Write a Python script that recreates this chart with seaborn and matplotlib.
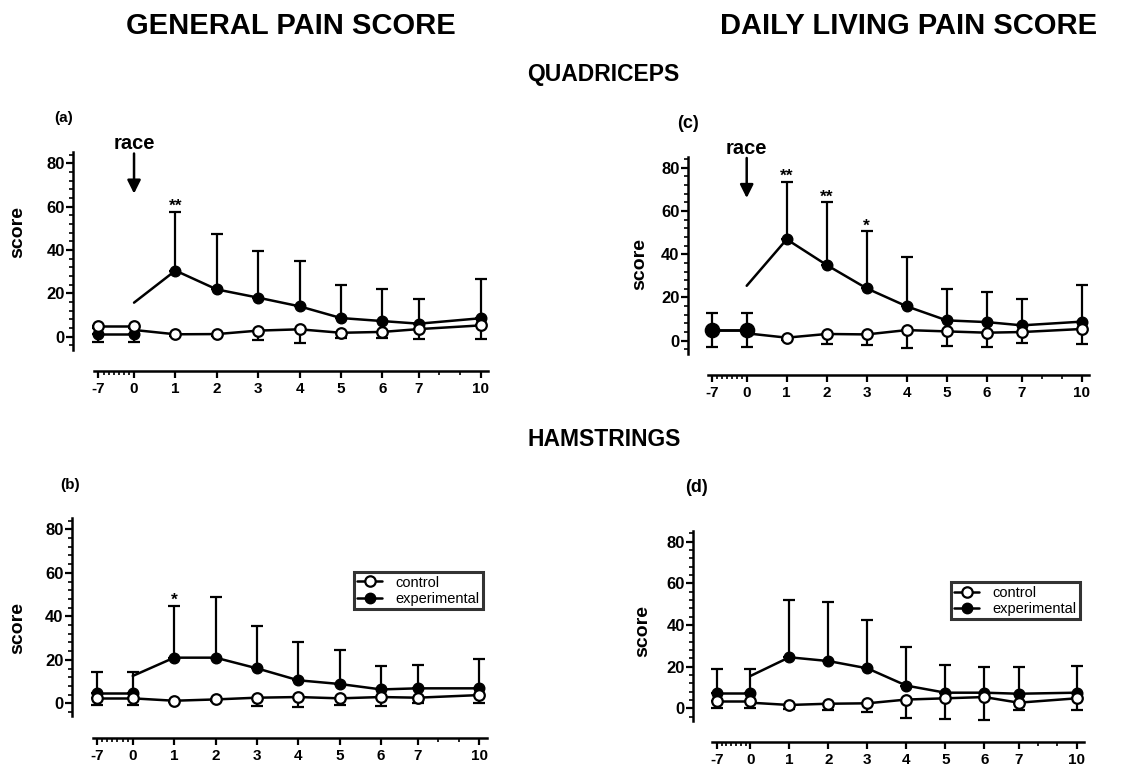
import numpy as np
import pandas as pd
import matplotlib
matplotlib.use("Agg")
import matplotlib.pyplot as plt
import seaborn as sns
from matplotlib.lines import Line2D

# ---------------- data ----------------
days = [-7, 0, 1, 2, 3, 4, 5, 6, 7, 10]
day_labels = ["-7", "0", "1", "2", "3", "4", "5", "6", "7", "10"]
minor_days = [-6, -5, -4, -3, -2, -1, 8, 9]
y_major = [0, 20, 40, 60, 80]

# (a) quadriceps, general pain score
a_exp_mean = [1.1, 1.1, 30.5, 21.8, 18.0, 14.0, 8.6, 7.2, 6.0, 8.5]
a_exp_sd = [3.0, 3.0, 27.2, 25.7, 21.7, 20.8, 15.4, 14.8, 11.2, 18.1]
a_exp_start = 15.7
a_ctrl_mean = [4.9, 4.9, 1.1, 1.2, 2.8, 3.4, 1.8, 2.2, 3.5, 5.2]
a_ctrl_sd = [7.5, 7.5, 0.8, 0.8, 4.3, 6.3, 2.3, 2.7, 4.7, 6.1]
a_ctrl_start = 3.1
a_stars = {1: "**"}

# (c) quadriceps, daily living pain score
c_exp_mean = [5.1, 5.1, 46.9, 35.0, 24.2, 15.9, 9.4, 8.6, 7.1, 8.8]
c_exp_sd = [7.5, 7.5, 26.6, 29.1, 26.5, 22.6, 14.5, 14.1, 12.2, 16.8]
c_exp_start = 25.4
c_ctrl_mean = [5.1, 5.1, 1.4, 3.1, 2.9, 4.9, 4.3, 3.7, 4.0, 5.4]
c_ctrl_sd = [7.9, 7.9, 1.0, 4.8, 4.9, 8.4, 6.8, 6.6, 5.2, 6.8]
c_ctrl_start = 3.4
c_stars = {1: "**", 2: "**", 3: "*"}

# (b) hamstrings, general pain score
b_exp_mean = [4.6, 4.6, 21.0, 21.0, 16.1, 10.6, 8.9, 6.4, 6.9, 6.9]
b_exp_sd = [9.7, 9.7, 23.8, 27.7, 19.5, 17.6, 15.8, 10.8, 10.9, 13.3]
b_exp_start = 12.6
b_ctrl_mean = [2.6, 2.6, 1.2, 1.8, 2.6, 2.9, 2.3, 2.9, 2.6, 3.8]
b_ctrl_sd = [3.4, 3.4, 0.8, 0.8, 3.8, 4.7, 3.1, 4.1, 2.3, 3.5]
b_ctrl_start = 2.3
b_stars = {1: "*"}

# (d) hamstrings, daily living pain score
d_exp_mean = [7.2, 7.2, 24.5, 22.7, 19.2, 10.9, 7.5, 7.5, 7.0, 7.5]
d_exp_sd = [11.5, 11.5, 27.5, 28.3, 23.0, 18.7, 13.5, 12.3, 12.8, 13.0]
d_exp_start = 15.5
d_ctrl_mean = [3.7, 3.7, 1.6, 2.2, 2.4, 4.2, 4.8, 5.4, 2.7, 4.8]
d_ctrl_sd = [3.7, 3.7, 1.9, 3.2, 4.2, 8.7, 9.9, 11.0, 3.3, 5.6]
d_ctrl_start = 2.7
d_stars = {}

series_names = ["control", "experimental"]

# ---------------- Prism-style x scale ----------------
knot_days = [-20, -7, 0, 6, 7, 10, 20]
knot_pos = [-2.457, -0.86, 0.0, 6.0, 6.88, 8.37, 13.34]


def fwd(d):
    return np.interp(d, knot_days, knot_pos)


def inv(p):
    return np.interp(p, knot_pos, knot_days)


W, H = 1145, 767
sns.set_theme(style="ticks")
plt.rcParams['font.family'] = ['Liberation Sans', 'DejaVu Sans']
plt.rcParams['axes.linewidth'] = 1.6

fig = plt.figure(figsize=(W / 100, H / 100), dpi=100)
fig.patch.set_facecolor("white")


def rect(left, right, top, bottom):
    return [left / W, 1 - bottom / H, (right - left) / W, (bottom - top) / H]


def ftext(x, y, s, **kw):
    fig.text(x / W, 1 - y / H, s, ha="center", va="center", **kw)


def draw(ax, exp_mean, exp_sd, exp_start, ctrl_mean, ctrl_sd, ctrl_start,
         stars, race=False, exp_on_top_base=False, big_base=False, legend_anchor=None):
    lw = 1.8
    for mean, start in [(ctrl_mean, ctrl_start), (exp_mean, exp_start)]:
        df_base = pd.DataFrame({"day": days[:2], "score": mean[:2]})
        sns.lineplot(data=df_base, x="day", y="score", ax=ax, color="black",
                     lw=lw, errorbar=None, sort=False, zorder=2)
        df_post = pd.DataFrame({"day": [0] + days[2:], "score": [start] + mean[2:]})
        sns.lineplot(data=df_post, x="day", y="score", ax=ax, color="black",
                     lw=lw, errorbar=None, sort=False, zorder=2)
    zeros = np.zeros(len(days))
    ax.errorbar(days, exp_mean, yerr=[zeros, exp_sd], fmt="none", ecolor="black",
                elinewidth=1.6, capsize=4, capthick=1.6, zorder=1)
    ax.errorbar(days, ctrl_mean, yerr=[ctrl_sd, zeros], fmt="none", ecolor="black",
                elinewidth=1.6, capsize=4, capthick=1.6, zorder=1)
    s_norm = 58
    s_base_exp = 105 if big_base else s_norm
    ze_base, zc_base = (6, 5) if exp_on_top_base else (4, 5)
    sns.scatterplot(x=days[:2], y=ctrl_mean[:2], ax=ax, marker="o", s=s_norm,
                    color="white", edgecolor="black", linewidth=1.6, zorder=zc_base)
    sns.scatterplot(x=days[:2], y=exp_mean[:2], ax=ax, marker="o", s=s_base_exp,
                    color="black", edgecolor="black", linewidth=1.0, zorder=ze_base)
    sns.scatterplot(x=days[2:], y=exp_mean[2:], ax=ax, marker="o", s=s_norm,
                    color="black", edgecolor="black", linewidth=1.0, zorder=4)
    sns.scatterplot(x=days[2:], y=ctrl_mean[2:], ax=ax, marker="o", s=s_norm,
                    color="white", edgecolor="black", linewidth=1.6, zorder=5)
    for d, s in stars.items():
        i = days.index(d)
        ax.text(d, exp_mean[i] + exp_sd[i] + 0.3, s, ha="center", va="baseline",
                fontsize=12.5, fontweight="bold", color="black")
    if race:
        ax.annotate("", xy=(0, 66), xytext=(0, 84.5),
                    arrowprops=dict(arrowstyle="-|>", lw=1.8, color="black",
                                    mutation_scale=20, shrinkA=0, shrinkB=0))
        ax.text(0, 89, "race", ha="center", va="center", fontsize=14.5,
                fontweight="bold", color="black")

    ax.set_xscale("function", functions=(fwd, inv))
    ax.set_xlim(inv(-1.6), inv(8.65))
    ax.set_ylim(-18, 87)
    ax.set_xlabel("")
    ax.set_ylabel("")
    for side in ["top", "right"]:
        ax.spines[side].set_visible(False)
    ax.spines["left"].set_position(("data", float(inv(-1.47))))
    ax.spines["left"].set_bounds(-6, 85)
    ax.spines["bottom"].set_position(("data", -16))
    ax.spines["bottom"].set_bounds(float(inv(-0.97)), float(inv(8.56)))
    for side in ["left", "bottom"]:
        ax.spines[side].set_linewidth(1.8)
        ax.spines[side].set_color("black")
    ax.set_xticks(days)
    ax.set_xticklabels(day_labels)
    ax.set_xticks(minor_days, minor=True)
    ax.set_yticks(y_major)
    ax.set_yticks([v for v in range(-4, 85, 4) if v % 20 != 0], minor=True)
    ax.tick_params(axis="both", which="major", length=5, width=1.6, color="black",
                   direction="out")
    ax.tick_params(axis="both", which="minor", length=3, width=1.2, color="black",
                   direction="out")
    ax.tick_params(axis="x", which="major", pad=3, labelsize=11)
    ax.tick_params(axis="y", which="major", pad=1, labelsize=12)
    for lab in ax.get_xticklabels() + ax.get_yticklabels():
        lab.set_fontweight("bold")
        lab.set_color("black")
    ax.set_facecolor("white")

    if legend_anchor is not None:
        handles = [
            Line2D([], [], color="black", lw=1.8, marker="o", markersize=7.5,
                   markerfacecolor="white", markeredgecolor="black", markeredgewidth=1.6),
            Line2D([], [], color="black", lw=1.8, marker="o", markersize=7.5,
                   markerfacecolor="black", markeredgecolor="black"),
        ]
        leg = ax.legend(handles, series_names, loc="upper right",
                        bbox_to_anchor=legend_anchor, borderaxespad=0,
                        fancybox=False, frameon=True, handlelength=1.7,
                        handletextpad=0.9, labelspacing=0.15, borderpad=0.25,
                        prop={"size": 10.5, "weight": "normal"})
        leg.get_frame().set_edgecolor("black")
        leg.get_frame().set_linewidth(2.2)
        for t in leg.get_texts():
            t.set_color("black")


ax_a = fig.add_axes(rect(67.8, 492.1, 148.1, 375.7))
draw(ax_a, a_exp_mean, a_exp_sd, a_exp_start, a_ctrl_mean, a_ctrl_sd, a_ctrl_start,
     a_stars, race=True)

ax_c = fig.add_axes(rect(682.7, 1092.7, 152.6, 379.6))
draw(ax_c, c_exp_mean, c_exp_sd, c_exp_start, c_ctrl_mean, c_ctrl_sd, c_ctrl_start,
     c_stars, race=True, exp_on_top_base=True, big_base=True)

ax_b = fig.add_axes(rect(66.5, 490.8, 514.1, 742.5))
draw(ax_b, b_exp_mean, b_exp_sd, b_exp_start, b_ctrl_mean, b_ctrl_sd, b_ctrl_start,
     b_stars, legend_anchor=(0.982, 0.747))

ax_d = fig.add_axes(rect(687.9, 1087.7, 527.1, 745.8))
draw(ax_d, d_exp_mean, d_exp_sd, d_exp_start, d_ctrl_mean, d_ctrl_sd, d_ctrl_start,
     d_stars, legend_anchor=(0.981, 0.749))

ftext(291, 26, "GENERAL PAIN SCORE", fontsize=21, fontweight="bold", color="black")
ftext(909, 26, "DAILY LIVING PAIN SCORE", fontsize=21, fontweight="bold", color="black")
ftext(603, 75, "QUADRICEPS", fontsize=16.5, fontweight="bold", color="black")
ftext(604, 440, "HAMSTRINGS", fontsize=16.5, fontweight="bold", color="black")

ftext(64, 118, "(a)", fontsize=11, fontweight="bold", color="black")
ftext(688, 123, "(c)", fontsize=13, fontweight="bold", color="black")
ftext(70, 485, "(b)", fontsize=11, fontweight="bold", color="black")
ftext(697, 488, "(d)", fontsize=13, fontweight="bold", color="black")

for (x, y) in [(17.5, 232), (640, 264), (17.5, 628), (643, 631)]:
    ftext(x, y, "score", fontsize=14, fontweight="bold", color="black", rotation=90)

fig.savefig("out.png", dpi=100, facecolor="white")
